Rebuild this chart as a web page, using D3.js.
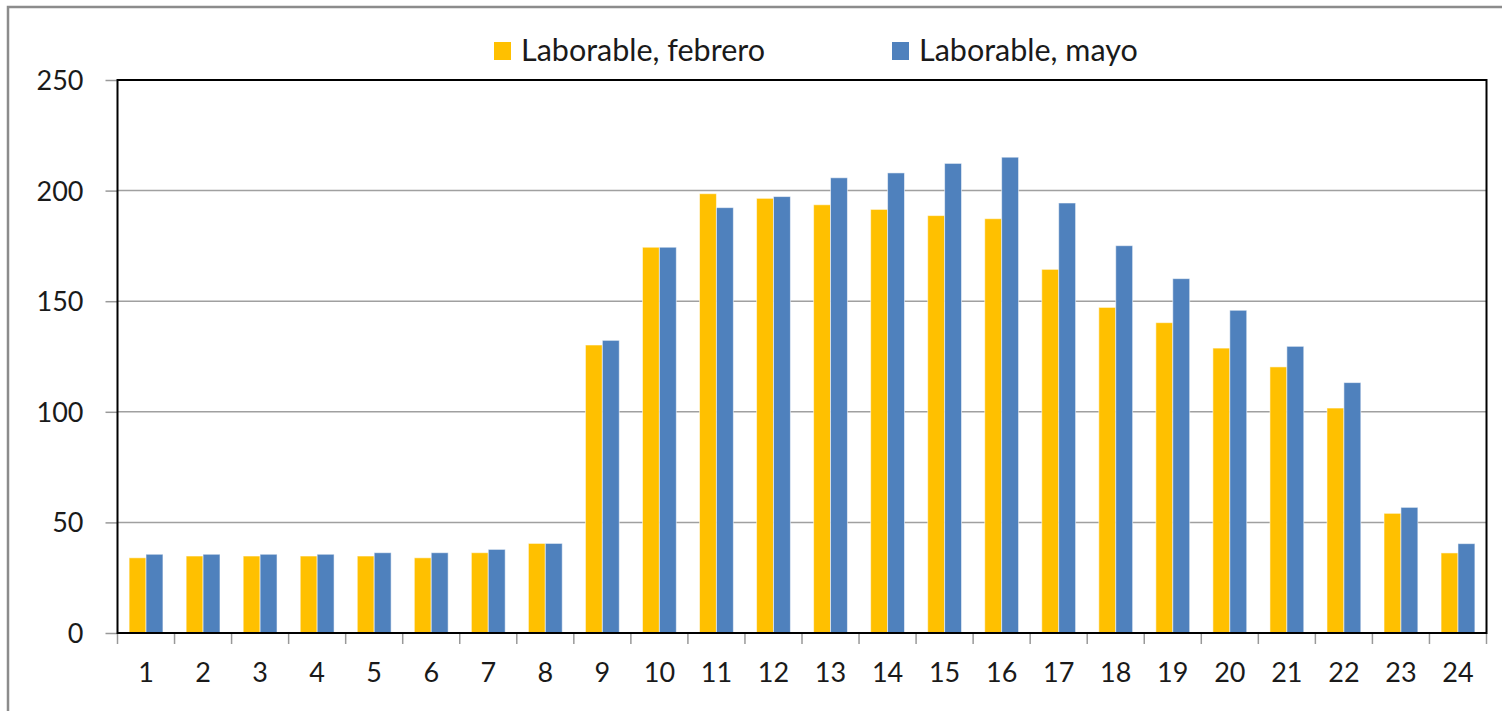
<!DOCTYPE html>
<html>
<head>
<meta charset="utf-8">
<script src="https://cdn.jsdelivr.net/npm/d3@7"></script>
<style>
  html, body { margin: 0; padding: 0; background: #fff; }
  svg { display: block; }
  text { font-family: Lato, "Liberation Sans", sans-serif; fill: #1a1a1a; }
</style>
</head>
<body>
<svg id="chart" width="1502" height="711"></svg>
<script>
// Hours of the day (1..24)
const hours = d3.range(1, 25).map(String);

// Series names and colours
const seriesNames = ["Laborable, febrero", "Laborable, mayo"];
const seriesColors = ["#FFC000", "#4F81BD"];

// Hourly values for each series
const febrero = [34.0, 34.8, 34.8, 34.8, 34.8, 34.0, 36.3, 40.5, 130.2, 174.4, 198.6, 196.5,
                 193.6, 191.5, 188.7, 187.3, 164.4, 147.2, 140.3, 128.8, 120.3, 101.7, 54.1, 36.2];
const mayo    = [35.6, 35.6, 35.6, 35.6, 36.3, 36.3, 37.8, 40.5, 132.3, 174.4, 192.3, 197.3,
                 205.8, 208.0, 212.3, 215.1, 194.4, 175.1, 160.2, 145.9, 129.6, 113.2, 56.8, 40.4];

// Y axis ticks
const yTicks = [0, 50, 100, 150, 200, 250];

const svg = d3.select("#chart");

// Outer chart frame
svg.append("rect")
  .attr("x", 8).attr("y", 7)
  .attr("width", 1520).attr("height", 740)
  .attr("fill", "none")
  .attr("stroke", "#8c8c8c")
  .attr("stroke-width", 2.5);

const plot = { left: 117.5, right: 1486.5, top: 80, bottom: 633 };

const x = d3.scaleBand().domain(hours).range([plot.left, plot.right]).padding(0);
const groupPad = 11.6;
const x1 = d3.scaleBand().domain([0, 1])
  .range([groupPad, x.bandwidth() - groupPad]).padding(0);
const y = d3.scaleLinear().domain([0, 250]).range([plot.bottom, plot.top]);

// Horizontal gridlines
svg.append("g")
  .selectAll("line")
  .data(yTicks.filter(t => t > 0 && t < 250))
  .join("line")
  .attr("x1", plot.left).attr("x2", plot.right)
  .attr("y1", d => y(d)).attr("y2", d => y(d))
  .attr("stroke", "#a0a0a0")
  .attr("stroke-width", 1.5);

// Y axis: labels and outer ticks
const yAxis = d3.axisLeft(y).tickValues(yTicks).tickSize(12).tickPadding(22);
const gy = svg.append("g")
  .attr("transform", `translate(${plot.left},0)`)
  .call(yAxis);
gy.select(".domain").remove();
gy.selectAll(".tick line").attr("stroke", "#999").attr("stroke-width", 1.5);
gy.selectAll(".tick text")
  .attr("font-size", 27)
  .attr("font-family", "Lato, 'Liberation Sans', sans-serif")
  .attr("fill", "#1a1a1a")
  .attr("dy", "0.35em");

// X axis: ticks at category boundaries, labels centred under each group
const xEdges = hours.map(h => x(h)).concat([plot.right]);
svg.append("g")
  .selectAll("line")
  .data(xEdges)
  .join("line")
  .attr("x1", d => d).attr("x2", d => d)
  .attr("y1", plot.bottom).attr("y2", plot.bottom + 11)
  .attr("stroke", "#999")
  .attr("stroke-width", 1.5);

const xAxis = d3.axisBottom(x).tickSize(0).tickPadding(30);
const gx = svg.append("g")
  .attr("transform", `translate(0,${plot.bottom})`)
  .call(xAxis);
gx.select(".domain").remove();
gx.selectAll(".tick text")
  .attr("font-size", 27)
  .attr("font-family", "Lato, 'Liberation Sans', sans-serif")
  .attr("fill", "#1a1a1a");

// Bars
const rows = hours.map((h, i) => ({ hour: h, values: [febrero[i], mayo[i]] }));
const groups = svg.append("g")
  .selectAll("g")
  .data(rows)
  .join("g")
  .attr("transform", d => `translate(${x(d.hour)},0)`);

groups.selectAll("rect")
  .data(d => d.values.map((v, k) => ({ k, v })))
  .join("rect")
  .attr("x", d => x1(d.k))
  .attr("width", x1.bandwidth())
  .attr("y", d => y(d.v))
  .attr("height", d => y(0) - y(d.v))
  .attr("fill", d => seriesColors[d.k])
  .attr("stroke", "rgba(255,255,255,0.55)")
  .attr("stroke-width", 1);

// Plot area border
svg.append("rect")
  .attr("x", plot.left).attr("y", plot.top)
  .attr("width", plot.right - plot.left)
  .attr("height", plot.bottom - plot.top)
  .attr("fill", "none")
  .attr("stroke", "#000")
  .attr("stroke-width", 2);

// Legend
const legendX = [494, 892];
const legend = svg.append("g")
  .selectAll("g")
  .data(seriesNames)
  .join("g")
  .attr("transform", (d, i) => `translate(${legendX[i]},42)`);
legend.append("rect")
  .attr("width", 17).attr("height", 18)
  .attr("fill", (d, i) => seriesColors[i]);
legend.append("text")
  .attr("x", 27).attr("y", 19)
  .attr("font-size", 30.5)
  .text(d => d);
</script>
</body>
</html>
